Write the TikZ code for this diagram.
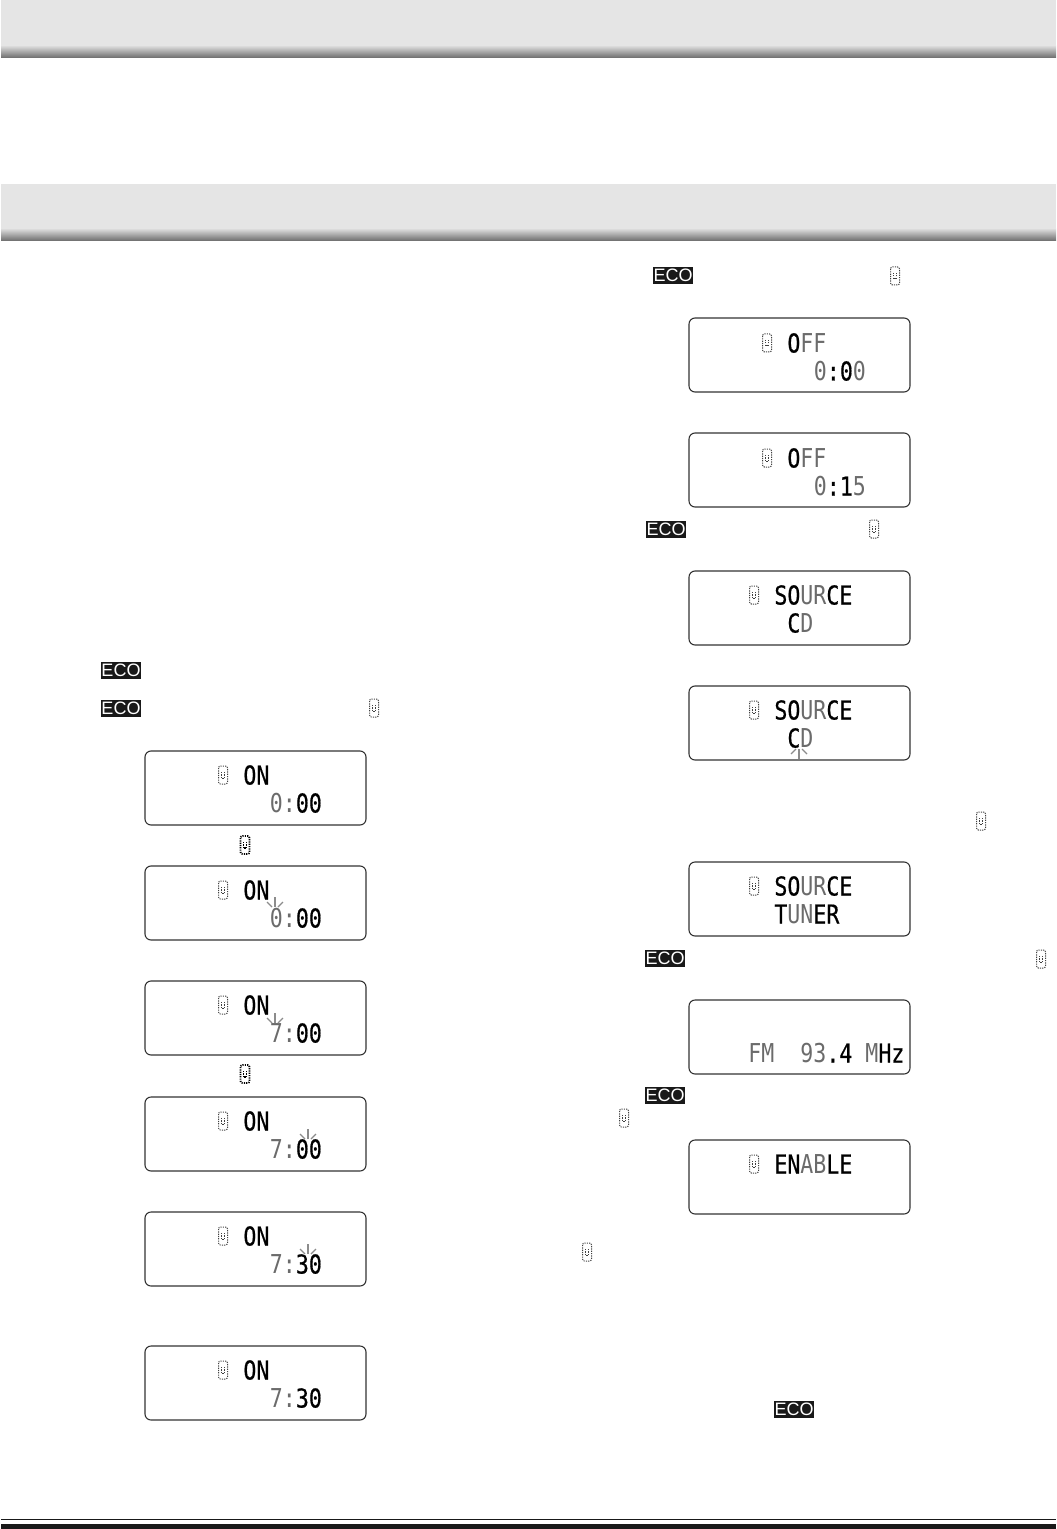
\documentclass[tikz,border=0pt]{standalone}
\usepackage{fontspec}
\usetikzlibrary{positioning, calc}
\newfontfamily\lcdfont[FakeStretch=0.83]{DejaVu Sans Mono}
\newfontfamily\lcdstrong[FakeStretch=0.83,FakeBold=0.6]{DejaVu Sans Mono}
\newfontfamily\ecofont{Liberation Sans}
\newcommand{\dk}[1]{\textcolor{black}{\lcdstrong #1}}
\newcommand{\lt}[1]{\textcolor{black!58}{#1}}

\tikzset{
    lcdpanel/.style={draw=black!80, line width=0.55pt, rounded corners=3pt, anchor=north west, outer sep=0pt,
        minimum width=110.5pt, minimum height=37pt, inner sep=0pt},
    lcdrow/.style={anchor=west, inner sep=0pt, text height=9.5pt, text depth=0pt, font=\lcdfont\fontsize{13pt}{13pt}\selectfont},
    ecotag/.style={fill=black!90, text=white, minimum width=20pt, minimum height=8.5pt, inner sep=0pt,
        font=\ecofont\fontsize{9pt}{9pt}\selectfont},
    iconlight/.style={draw=black!75, line width=0.5pt},
    icondark/.style={draw=black, line width=0.9pt},
    blinkline/.style={draw=black!45, line width=0.6pt},
    timericon/.pic={
        \draw[pic actions, rounded corners=1pt, dash pattern=on 0.6pt off 0.55pt] (-4.5,-9) rectangle (4.5,9);
        \draw[pic actions, dash pattern=on 0.6pt off 0.55pt] (-1.5,-3) -- (-1.5,3) -- (1.5,3) -- (1.5,-3);
    },
    blinkmark/.pic={
        \draw[blinkline] (0,-1) -- (0,-11);
        \draw[blinkline] (-3,-1) -- (-8,-6);
        \draw[blinkline] (3,-1) -- (8,-6);
    },
}

\begin{document}
\begin{tikzpicture}[x=0.5pt, y=-0.5pt]
    \useasboundingbox (0,0) rectangle (1056,1529);

    % header bands
    \fill[black!10] (1,0) rectangle (1056,46);
    \shade[top color=black!14, bottom color=black!58] (1,46) rectangle (1056,58);
    \fill[black!10] (1,184) rectangle (1056,229);
    \shade[top color=black!14, bottom color=black!58] (1,229) rectangle (1056,241);

    % footer rules
    \fill[black!90] (1,1519) rectangle (1056,1520.4);
    \fill[black!90] (1,1524) rectangle (1056,1529);

    % left column
    \node[lcdpanel] (lcdA) at (145,751) {};
    \node[lcdpanel, below=20.5pt of lcdA.south west, anchor=north west] (lcdB) {};
    \node[lcdpanel, below=20.5pt of lcdB.south west, anchor=north west] (lcdC) {};
    \node[lcdpanel, below=21pt of lcdC.south west, anchor=north west] (lcdD) {};
    \node[lcdpanel, below=20.5pt of lcdD.south west, anchor=north west] (lcdE) {};
    \node[lcdpanel, below=30pt of lcdE.south west, anchor=north west] (lcdF) {};
    \foreach \pn/\ptime in {lcdA/{\lt{0:}\dk{00}}, lcdB/{\lt{0:}\dk{00}}, lcdC/{\lt{7:}\dk{00}},
            lcdD/{\lt{7:}\dk{00}}, lcdE/{\lt{7:}\dk{30}}, lcdF/{\lt{7:}\dk{30}}} {
        \pic[iconlight] at ($(\pn.north west)+(78,24)$) {timericon};
        \node[lcdrow] (\pn on) at ($(\pn.north west)+(98,24)$) {\dk{ON}};
        \node[lcdrow] (\pn time) at ($(\pn.north west)+(124.5,52)$) {\ptime};
    }
    \pic at ($(lcdB.north west)+(130,42)$) {blinkmark};
    \pic at ($(lcdC.north west)+(130,43)$) {blinkmark};
    \pic at ($(lcdD.north west)+(163,43)$) {blinkmark};
    \pic at ($(lcdE.north west)+(163,43)$) {blinkmark};

    % right column
    \node[lcdpanel] (lcdG) at (689,318) {};
    \node[lcdpanel, below=20.5pt of lcdG.south west, anchor=north west] (lcdH) {};
    \node[lcdpanel, below=32pt of lcdH.south west, anchor=north west] (lcdI) {};
    \node[lcdpanel, below=20.5pt of lcdI.south west, anchor=north west] (lcdJ) {};
    \node[lcdpanel, below=51pt of lcdJ.south west, anchor=north west] (lcdK) {};
    \node[lcdpanel, below=32pt of lcdK.south west, anchor=north west] (lcdL) {};
    \node[lcdpanel, below=33pt of lcdL.south west, anchor=north west] (lcdM) {};

    \foreach \pn/\ptime in {lcdG/{\lt{0}\dk{:0}\lt{0}}, lcdH/{\lt{0}\dk{:1}\lt{5}}} {
        \pic[iconlight] at ($(\pn.north west)+(78,25)$) {timericon};
        \node[lcdrow] (\pn off) at ($(\pn.north west)+(98,25)$) {\dk{O}\lt{FF}};
        \node[lcdrow] (\pn time) at ($(\pn.north west)+(124.5,53)$) {\ptime};
    }
    \foreach \pn/\pline/\pcol in {lcdI/{\dk{C}\lt{D}}/98, lcdJ/{\dk{C}\lt{D}}/98, lcdK/{\dk{T}\lt{UN}\dk{ER}}/85} {
        \pic[iconlight] at ($(\pn.north west)+(65,24)$) {timericon};
        \node[lcdrow] (\pn src) at ($(\pn.north west)+(85,24)$) {\dk{SO}\lt{UR}\dk{CE}};
        \node[lcdrow] (\pn sel) at ($(\pn.north west)+(\pcol,52)$) {\pline};
    }
    \node[lcdrow] (lcdLfm) at ($(lcdL.north west)+(59,53)$) {\lt{FM}};
    \node[lcdrow] (lcdLfreq) at ($(lcdL.north west)+(111,53)$) {\lt{93}\dk{.4}};
    \node[lcdrow] (lcdLunit) at ($(lcdL.north west)+(176,53)$) {\lt{M}\dk{Hz}};
    \pic[iconlight] at ($(lcdM.north west)+(65,24)$) {timericon};
    \node[lcdrow] (lcdMtxt) at ($(lcdM.north west)+(85,24)$) {\dk{EN}\lt{AB}\dk{LE}};
    \pic[yscale=-1] at ($(lcdJ.north west)+(110,62)$) {blinkmark};

    % tags and icons between the panels
    \node[ecotag] (ecoA) at (121,670.5) {ECO};
    \node[ecotag] (ecoB) at (121,708.5) {ECO};
    \node[ecotag] (ecoC) at (673,275.5) {ECO};
    \node[ecotag] (ecoD) at (666,529.5) {ECO};
    \node[ecotag] (ecoE) at (665,958.5) {ECO};
    \node[ecotag] (ecoF) at (665,1095.5) {ECO};
    \node[ecotag] (ecoG) at (794,1409.5) {ECO};
    \foreach \ix/\iy in {374/708, 895/276, 874/529, 981/821, 1041/959, 624/1118, 587/1252}
        \pic[iconlight] at (\ix,\iy) {timericon};
    \foreach \ix/\iy in {245/845, 245/1074}
        \pic[icondark] at (\ix,\iy) {timericon};
\end{tikzpicture}
\end{document}
